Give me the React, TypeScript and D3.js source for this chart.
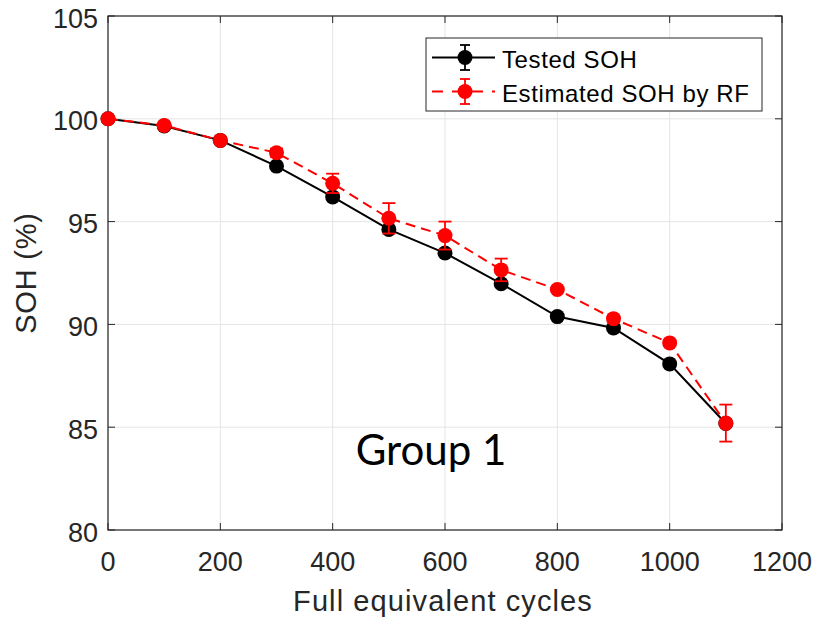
import React from "react";
import * as d3 from "d3";

const cycles = [0, 100, 200, 300, 400, 500, 600, 700, 800, 900, 1000, 1100];
const testedSOH = [100, 99.65, 98.95, 97.7, 96.2, 94.62, 93.47, 91.98, 90.38, 89.83, 88.08, 85.18];
const testedErr = [0, 0.05, 0.05, 0.08, 0.08, 0.1, 0.08, 0.08, 0.1, 0.08, 0.08, 0.1];
const estimatedSOH = [100, 99.68, 98.95, 98.35, 96.86, 95.16, 94.32, 92.65, 91.7, 90.28, 89.1, 85.2];
const estimatedErr = [0, 0.08, 0.1, 0.2, 0.47, 0.74, 0.68, 0.55, 0.08, 0.15, 0.12, 0.9];
const xTicks = [0, 200, 400, 600, 800, 1000, 1200];
const yTicks = [80, 85, 90, 95, 100, 105];
const legendLabels = ["Tested SOH", "Estimated SOH by RF"];

const W = 817;
const H = 622;
const m = { left: 108, top: 16, right: 782, bottom: 530 };
const font = "'Liberation Sans', Arial, Helvetica, sans-serif";
const axisCol = "#262626";

export default function App() {
  const x = d3.scaleLinear().domain([0, 1200]).range([m.left, m.right]);
  const y = d3.scaleLinear().domain([80, 105]).range([m.bottom, m.top]);
  const line = d3
    .line<[number, number]>()
    .x((d) => x(d[0]))
    .y((d) => y(d[1]));

  const series = [
    { vals: testedSOH, err: testedErr, color: "#000000", dash: undefined as string | undefined },
    { vals: estimatedSOH, err: estimatedErr, color: "#ff0000", dash: "10,6" },
  ];
  const capW = 6.5;

  return (
    <svg width={W} height={H} style={{ position: "absolute", left: 0, top: 0, background: "#fff" }}>
      <rect x={0} y={0} width={W} height={H} fill="#fff" />
      {/* grid */}
      {xTicks.map((t) => (
        <line key={"gx" + t} x1={x(t)} x2={x(t)} y1={m.top} y2={m.bottom} stroke="#e5e5e5" strokeWidth={1} />
      ))}
      {yTicks.map((t) => (
        <line key={"gy" + t} x1={m.left} x2={m.right} y1={y(t)} y2={y(t)} stroke="#e5e5e5" strokeWidth={1} />
      ))}
      {/* box */}
      <rect x={m.left} y={m.top} width={m.right - m.left} height={m.bottom - m.top} fill="none" stroke={axisCol} strokeWidth={1.2} />
      {/* ticks */}
      {xTicks.map((t) => (
        <g key={"tx" + t}>
          <line x1={x(t)} x2={x(t)} y1={m.bottom} y2={m.bottom - 7} stroke={axisCol} />
          <line x1={x(t)} x2={x(t)} y1={m.top} y2={m.top + 7} stroke={axisCol} />
          <text x={x(t)} y={m.bottom + 41} textAnchor="middle" fontFamily={font} fontSize={27} fill={axisCol}>
            {t}
          </text>
        </g>
      ))}
      {yTicks.map((t) => (
        <g key={"ty" + t}>
          <line x1={m.left} x2={m.left + 7} y1={y(t)} y2={y(t)} stroke={axisCol} />
          <line x1={m.right} x2={m.right - 7} y1={y(t)} y2={y(t)} stroke={axisCol} />
          <text x={m.left - 10} y={y(t) + 11.5} textAnchor="end" fontFamily={font} fontSize={27} fill={axisCol}>
            {t}
          </text>
        </g>
      ))}
      <text x={443} y={611} textAnchor="middle" fontFamily={font} fontSize={29} letterSpacing={1.1} fill={axisCol}>
        Full equivalent cycles
      </text>
      <text
        transform={`translate(36, ${(m.top + m.bottom) / 2}) rotate(-90)`}
        textAnchor="middle"
        fontFamily={font}
        fontSize={29}
        letterSpacing={0.8}
        fill={axisCol}
      >
        SOH (%)
      </text>
      {/* series */}
      {series.map((s, si) => {
        const pts = cycles.map((c, i) => [c, s.vals[i]] as [number, number]);
        return (
          <g key={"s" + si}>
            <path d={line(pts) || ""} fill="none" stroke={s.color} strokeWidth={2} strokeDasharray={s.dash} />
            {pts.map((p, i) => {
              const e = s.err[i];
              const cx = x(p[0]);
              const y1 = y(p[1] + e);
              const y2 = y(p[1] - e);
              return (
                <g key={"e" + i}>
                  {e > 0 && (
                    <g stroke={s.color} strokeWidth={1.8}>
                      <line x1={cx} x2={cx} y1={y1} y2={y2} />
                      <line x1={cx - capW} x2={cx + capW} y1={y1} y2={y1} />
                      <line x1={cx - capW} x2={cx + capW} y1={y2} y2={y2} />
                    </g>
                  )}
                  <circle cx={cx} cy={y(p[1])} r={7.5} fill={s.color} />
                </g>
              );
            })}
          </g>
        );
      })}
      {/* Group label */}
      <text x={431} y={465} textAnchor="middle" fontFamily="Lato, 'Open Sans', sans-serif" fontSize={42} fill="#000">
        Group 1
      </text>
      {/* legend */}
      <g>
        <rect x={426} y={38} width={336} height={73} fill="#fff" stroke={axisCol} strokeWidth={1} />
        {series.map((s, i) => {
          const cy = 57.5 + i * 34;
          return (
            <g key={"l" + i}>
              <line x1={432} x2={495} y1={cy} y2={cy} stroke={s.color} strokeWidth={2} strokeDasharray={s.dash ? "11,9" : undefined} />
              <g stroke={s.color} strokeWidth={1.8}>
                <line x1={465} x2={465} y1={cy - 12.5} y2={cy + 12.5} />
                <line x1={460} x2={470} y1={cy - 12.5} y2={cy - 12.5} />
                <line x1={460} x2={470} y1={cy + 12.5} y2={cy + 12.5} />
              </g>
              <circle cx={465} cy={cy} r={7.5} fill={s.color} />
              <text x={502} y={cy + 10} fontFamily={font} fontSize={24} letterSpacing={0.6} fill="#000">
                {legendLabels[i]}
              </text>
            </g>
          );
        })}
      </g>
    </svg>
  );
}
